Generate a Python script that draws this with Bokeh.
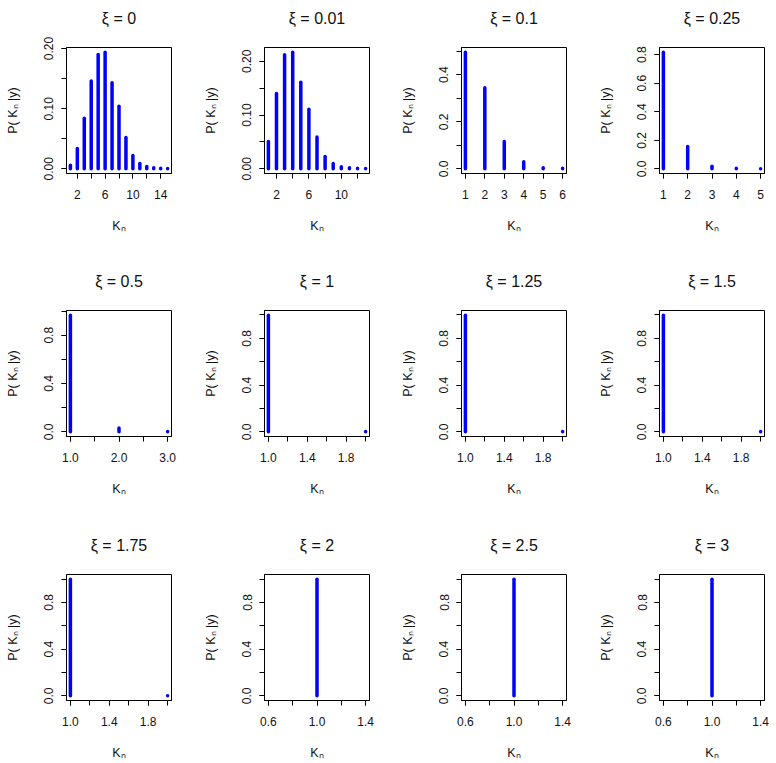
from bokeh.plotting import figure
from bokeh.layouts import gridplot
from bokeh.models import Range1d, FixedTicker, PrintfTickFormatter, ColumnDataSource, Title
from bokeh.embed import file_html
from bokeh.resources import INLINE

# ---------------- data ----------------
xi_labels = ["0", "0.01", "0.1", "0.25", "0.5", "1", "1.25", "1.5", "1.75", "2", "2.5", "3"]

kn_xi_0 = [1, 2, 3, 4, 5, 6, 7, 8, 9, 10, 11, 12, 13, 14, 15]
p_xi_0 = [0.006, 0.034, 0.084, 0.146, 0.190, 0.194, 0.143, 0.104, 0.052, 0.022,
          0.009, 0.004, 0.002, 0.001, 0.0005]

kn_xi_001 = [1, 2, 3, 4, 5, 6, 7, 8, 9, 10, 11, 12, 13]
p_xi_001 = [0.051, 0.140, 0.212, 0.217, 0.161, 0.111, 0.059, 0.023, 0.010, 0.004,
            0.002, 0.001, 0.0005]

kn_xi_01 = [1, 2, 3, 4, 5, 6]
p_xi_01 = [0.496, 0.345, 0.116, 0.030, 0.005, 0.002]

kn_xi_025 = [1, 2, 3, 4, 5]
p_xi_025 = [0.818, 0.157, 0.018, 0.004, 0.001]

kn_xi_05 = [1, 2, 3]
p_xi_05 = [0.966, 0.032, 0.002]

kn_xi_1 = [1, 2]
p_xi_1 = [0.998, 0.002]

kn_xi_125 = [1, 2]
p_xi_125 = [0.998, 0.002]

kn_xi_15 = [1, 2]
p_xi_15 = [0.998, 0.002]

kn_xi_175 = [1, 2]
p_xi_175 = [0.999, 0.001]

kn_xi_2 = [1]
p_xi_2 = [1.0]

kn_xi_25 = [1]
p_xi_25 = [1.0]

kn_xi_3 = [1]
p_xi_3 = [1.0]

kn_all = [kn_xi_0, kn_xi_001, kn_xi_01, kn_xi_025, kn_xi_05, kn_xi_1,
          kn_xi_125, kn_xi_15, kn_xi_175, kn_xi_2, kn_xi_25, kn_xi_3]
p_all = [p_xi_0, p_xi_001, p_xi_01, p_xi_025, p_xi_05, p_xi_1,
         p_xi_125, p_xi_15, p_xi_175, p_xi_2, p_xi_25, p_xi_3]

# tick positions (labelled / all)
x_lab_a = [2, 6, 10, 14]
x_all_a = [2, 4, 6, 8, 10, 12, 14]
x_lab_b = [2, 6, 10]
x_all_b = [2, 4, 6, 8, 10, 12]
x_lab_c = [1, 2, 3, 4, 5, 6]
x_lab_d = [1, 2, 3, 4, 5]
x_lab_e = [1.0, 2.0, 3.0]
x_all_e = [1.0, 1.5, 2.0, 2.5, 3.0]
x_lab_f = [1.0, 1.4, 1.8]
x_all_f = [1.0, 1.2, 1.4, 1.6, 1.8, 2.0]
x_lab_g = [0.6, 1.0, 1.4]
x_all_g = [0.6, 0.8, 1.0, 1.2, 1.4]

y_lab_a = [0.0, 0.10, 0.20]
y_all_a = [0.0, 0.05, 0.10, 0.15, 0.20]
y_lab_c = [0.0, 0.2, 0.4]
y_all_c = [0.0, 0.1, 0.2, 0.3, 0.4, 0.5]
y_lab_d = [0.0, 0.2, 0.4, 0.6, 0.8]
y_lab_e = [0.0, 0.4, 0.8]
y_all_e = [0.0, 0.2, 0.4, 0.6, 0.8, 1.0]

x_ticks = [(x_lab_a, x_all_a, "%d"), (x_lab_b, x_all_b, "%d"), (x_lab_c, x_lab_c, "%d"),
           (x_lab_d, x_lab_d, "%d"), (x_lab_e, x_all_e, "%.1f"), (x_lab_f, x_all_f, "%.1f"),
           (x_lab_f, x_all_f, "%.1f"), (x_lab_f, x_all_f, "%.1f"), (x_lab_f, x_all_f, "%.1f"),
           (x_lab_g, x_all_g, "%.1f"), (x_lab_g, x_all_g, "%.1f"), (x_lab_g, x_all_g, "%.1f")]
y_ticks = [(y_lab_a, y_all_a, "%.2f"), (y_lab_a, y_all_a, "%.2f"), (y_lab_c, y_all_c, "%.1f"),
           (y_lab_d, y_lab_d, "%.1f")] + [(y_lab_e, y_all_e, "%.1f")] * 8

# ---------------- layout ----------------
FONT = "Liberation Sans"
col_widths = [198, 197, 198, 182]
row_heights = [263, 264, 235]
LEFT, TOP, FW, FH = 66, 47, 105, 126


def r_range(lo, hi):
    if lo == hi:
        lo, hi = lo - 0.4 * abs(lo), hi + 0.4 * abs(hi)
    pad = 0.04 * (hi - lo)
    return Range1d(lo - pad, hi + pad)


figs = []
for i in range(12):
    r, c = divmod(i, 4)
    kn, pr = kn_all[i], p_all[i]
    w, h = col_widths[c], row_heights[r]
    p = figure(width=w, height=h, output_backend="svg", toolbar_location=None,
               min_border_left=LEFT, min_border_top=TOP,
               min_border_right=w - LEFT - FW, min_border_bottom=h - TOP - FH,
               x_range=r_range(min(kn), max(kn)), y_range=r_range(0, max(pr)),
               title=None)
    src = ColumnDataSource(dict(kn=kn, zero=[0] * len(kn), prob=pr))
    p.segment(x0="kn", y0="zero", x1="kn", y1="prob", source=src,
              line_width=3.5, line_color="#0000FF", line_cap="round")

    # spacer (closest to the frame) and the panel title above it
    p.add_layout(Title(text=" ", text_font=FONT, text_font_size="16px", standoff=1), "above")
    p.add_layout(Title(text="ξ = " + xi_labels[i], align="center", text_font=FONT,
                       text_font_size="16px", text_font_style="normal",
                       text_color="#111111", standoff=2), "above")

    p.outline_line_color = "black"
    p.outline_line_width = 1
    p.outline_line_alpha = 1
    p.xgrid.visible = False
    p.ygrid.visible = False
    p.background_fill_color = "white"
    p.border_fill_color = "white"

    xl, xa, xf = x_ticks[i]
    yl, ya, yf = y_ticks[i]
    p.xaxis.ticker = FixedTicker(ticks=xl, minor_ticks=xa)
    p.yaxis.ticker = FixedTicker(ticks=yl, minor_ticks=ya)
    p.xaxis.formatter = PrintfTickFormatter(format=xf)
    p.yaxis.formatter = PrintfTickFormatter(format=yf)
    p.xaxis.axis_label = "Kₙ"
    p.yaxis.axis_label = "P( Kₙ |y)"
    p.yaxis.major_label_orientation = "vertical"

    for ax in (p.xaxis[0], p.yaxis[0]):
        ax.axis_line_color = "black"
        ax.major_tick_line_color = "black"
        ax.minor_tick_line_color = "black"
        ax.major_tick_out = 5
        ax.major_tick_in = 0
        ax.minor_tick_out = 5
        ax.minor_tick_in = 0
        ax.major_label_text_font = FONT
        ax.major_label_text_font_size = "12px"
        ax.major_label_text_color = "#111111"
        ax.axis_label_text_font = FONT
        ax.axis_label_text_font_size = "12.5px"
        ax.axis_label_text_font_style = "normal"
        ax.axis_label_text_color = "#111111"
    p.xaxis.major_label_standoff = 11
    p.xaxis.axis_label_standoff = 17
    p.yaxis.major_label_standoff = 8
    p.yaxis.axis_label_standoff = 22
    figs.append(p)

grid = gridplot([figs[0:4], figs[4:8], figs[8:12]], toolbar_location=None)

open("out.html", "w").write(file_html(grid, INLINE))
